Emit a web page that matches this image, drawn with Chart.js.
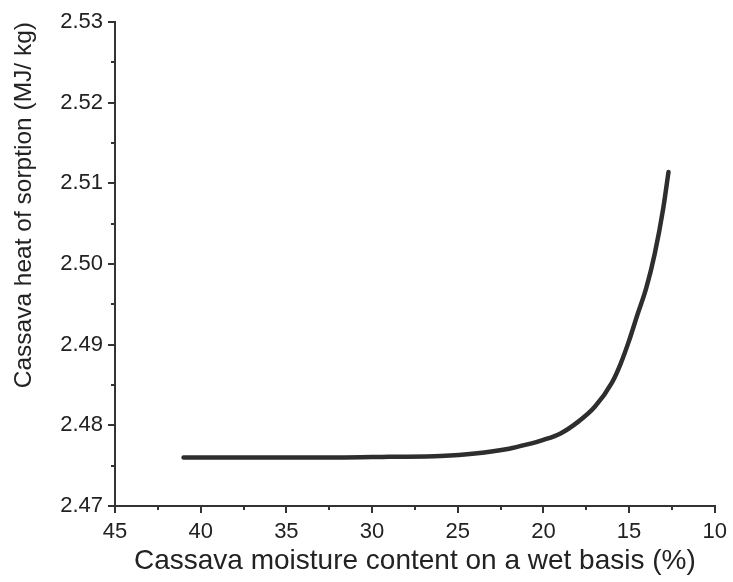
<!DOCTYPE html>
<html>
<head>
<meta charset="utf-8">
<script src="https://cdn.jsdelivr.net/npm/chart.js@4"></script>
<style>
  html, body { margin: 0; padding: 0; background: #fff; }
  #wrap { width: 733px; height: 582px; }
</style>
</head>
<body>
<div id="wrap"><canvas id="heatChart" width="733" height="582"></canvas></div>
<script>
// moisture content (% w.b.) and heat of sorption (MJ/kg)
const moisture = [41, 38, 35, 32, 29, 26, 24, 22, 21, 20, 19, 18, 17, 16, 15.5, 15, 14.5, 14, 13.5, 13, 12.7];
const heat = [2.4760, 2.4760, 2.4760, 2.4760, 2.4761, 2.4762, 2.4765, 2.4771, 2.4776, 2.4782, 2.4790, 2.4804, 2.4823, 2.4853, 2.4876, 2.4905, 2.4938, 2.4970, 2.5013, 2.5070, 2.5114];

const xMinorTicks = [42.5, 37.5, 32.5, 27.5, 22.5, 17.5, 12.5];
const yMinorTicks = [2.475, 2.485, 2.495, 2.505, 2.515, 2.525];

const points = moisture.map((m, i) => ({ x: m, y: heat[i] }));
const axisColor = '#333';
const textColor = '#222';
const fontFamily = '"Liberation Sans", Arial, sans-serif';

// short outward ticks between the labelled ones
const minorTicks = {
  id: 'minorTicks',
  afterDraw(chart) {
    const ctx = chart.ctx;
    const xs = chart.scales.x, ys = chart.scales.y;
    ctx.save();
    ctx.strokeStyle = axisColor;
    ctx.lineWidth = 2;
    ctx.beginPath();
    xMinorTicks.forEach(v => {
      const px = Math.round(xs.getPixelForValue(v));
      ctx.moveTo(px, xs.top);
      ctx.lineTo(px, xs.top + 4);
    });
    yMinorTicks.forEach(v => {
      const py = Math.round(ys.getPixelForValue(v));
      ctx.moveTo(ys.right, py);
      ctx.lineTo(ys.right - 4, py);
    });
    ctx.stroke();
    ctx.restore();
  }
};

new Chart(document.getElementById('heatChart').getContext('2d'), {
  type: 'line',
  data: {
    datasets: [
      {
        data: points,
        borderColor: '#2e2e2e',
        borderWidth: 4.5,
        pointRadius: 0,
        cubicInterpolationMode: 'monotone',
        borderCapStyle: 'round'
      },
      {
        data: points,
        borderColor: '#b5b5b5',
        borderWidth: 1.6,
        borderDash: [5, 2],
        pointRadius: 0,
        cubicInterpolationMode: 'monotone'
      }
    ]
  },
  options: {
    responsive: false,
    animation: false,
    layout: { padding: { top: 22, right: 17, left: 10, bottom: 4 } },
    plugins: { legend: { display: false }, tooltip: { enabled: false } },
    scales: {
      x: {
        type: 'linear',
        min: 10,
        max: 45,
        reverse: true,
        border: { display: true, color: axisColor, width: 2 },
        grid: { drawOnChartArea: false, drawTicks: true, tickLength: 7, color: axisColor, lineWidth: 2 },
        ticks: {
          stepSize: 5,
          color: textColor,
          padding: 6,
          font: { family: fontFamily, size: 22 }
        },
        title: {
          display: true,
          text: 'Cassava moisture content on a wet basis (%)',
          color: textColor,
          font: { family: fontFamily, size: 28 },
          padding: { top: 2, bottom: 0 }
        },
        afterFit(scale) { scale.height = 72; }
      },
      y: {
        min: 2.47,
        max: 2.53,
        border: { display: true, color: axisColor, width: 2 },
        grid: { drawOnChartArea: false, drawTicks: true, tickLength: 7, color: axisColor, lineWidth: 2 },
        ticks: {
          stepSize: 0.01,
          color: textColor,
          padding: 5,
          font: { family: fontFamily, size: 22 },
          callback: v => v.toFixed(2)
        },
        title: {
          display: true,
          text: 'Cassava heat of sorption (MJ/ kg)',
          color: textColor,
          align: 'end',
          font: { family: fontFamily, size: 24.5 },
          padding: { top: 0, bottom: 4 }
        },
        afterFit(scale) { scale.width = 105; }
      }
    }
  },
  plugins: [minorTicks]
});
</script>
</body>
</html>
